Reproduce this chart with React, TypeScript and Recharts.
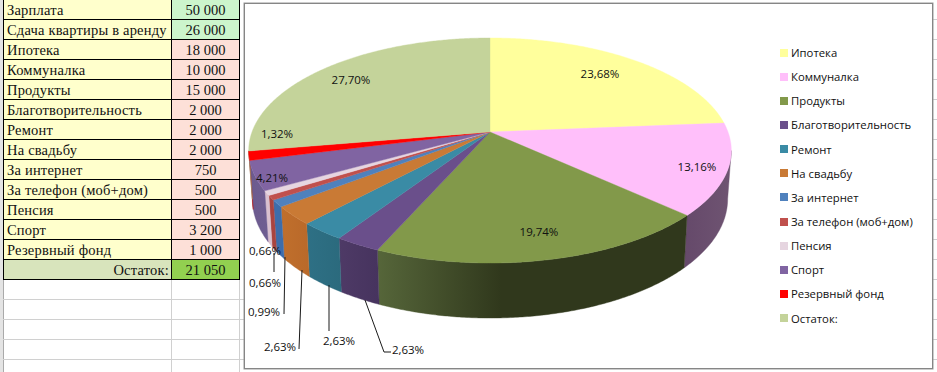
import React from 'react'
import { PieChart, Pie, Legend } from 'recharts'

const incomeNames = ['Зарплата', 'Сдача квартиры в аренду']
const incomeValues = [50000, 26000]
const expenseNames = ['Ипотека', 'Коммуналка', 'Продукты', 'Благотворительность', 'Ремонт', 'На свадьбу', 'За интернет', 'За телефон (моб+дом)', 'Пенсия', 'Спорт', 'Резервный фонд']
const expenseValues = [18000, 10000, 15000, 2000, 2000, 2000, 750, 500, 500, 3200, 1000]
const restName = 'Остаток:'
const restValue = 21050

const sliceColors = ['#FFFF9C', '#FFBFFA', '#82994A', '#6A4F8B', '#3A8BA5', '#C97A35', '#4F81BD', '#C0504D', '#E6D5E0', '#8064A2', '#FF0000', '#C4D39A']
const wallColors = [
    ['#8a8a50', '#8a8a50'], ['#65496a', '#6f5472'], ['#56663a', '#30381c'], ['#4e3a66', '#46335e'],
    ['#2e7085', '#2b6a7d'], ['#c06f2c', '#b9692a'], ['#3d6dab', '#3d6dab'], ['#a94440', '#a94440'],
    ['#d9c0cf', '#d9c0cf'], ['#6b5a8e', '#6f5e92'], ['#b00000', '#b00000'], ['#9aa878', '#9aa878'],
]

// label centre per slice, the third item is the leader line when there is one
const labelSpots: any[] = [
    [600, 73], [697, 166], [539, 231], [408, 349, [[365, 300], [384, 352], [391, 352]]], [339, 340, [[329, 285], [329, 331]]], [280, 346, [[302, 270], [299, 349]]],
    [264, 311, [[285, 257], [284, 314]]], [265, 250], [265, 282, [[274, 253], [274, 272]]], [272, 177], [277, 133], [351, 79],
]

const chartData = [...expenseNames, restName].map((name, i) => ({
    name,
    value: i < expenseValues.length ? expenseValues[i] : restValue,
    fill: sliceColors[i],
}))

const tableRows = [
    ...incomeNames.map((name, i) => ({ name, value: incomeValues[i], bg: '#ffffcc', valueBg: '#ccf5cc' })),
    ...expenseNames.map((name, i) => ({ name, value: expenseValues[i], bg: '#ffffcc', valueBg: '#fde0d8' })),
]

const fmt = (n: number) => String(n).replace(/\B(?=(\d{3})+$)/g, ' ')

const PIE_CX = 490
const PIE_CY = 132
const PIE_R = 238
const FLAT = 0.46
const TILT = 0.1645

// the pie plane is seen in perspective, so the hub is not the centre of the rim
const project = (cx: number, cy: number, r: number, cw: number) => {
    const a = (cw * Math.PI) / 180
    const u = Math.sin(a)
    const v = Math.cos(a)
    const w = 1 + TILT * v
    return { x: cx + (r * u) / w, y: cy - (r * FLAT * v) / w, v }
}

const rimBottom = (cx: number, cy: number, r: number, cw: number) => {
    const p = project(cx, cy, r, cw)
    return { x: cx + (p.x - cx) * 0.985, y: p.y + 47 - 8 * p.v }
}

const arcAngles = (from: number, to: number) => {
    const steps = Math.max(2, Math.ceil(Math.abs(to - from) * 2))
    return Array.from({ length: steps + 1 }, (_, i) => from + ((to - from) * i) / steps)
}

const TopShape = (props: any) => {
    const { cx, cy, outerRadius, startAngle, endAngle, fill } = props
    const pts = arcAngles(90 - startAngle, 90 - endAngle).map((c) => project(cx, cy, outerRadius, c))
    const d = `M${cx},${cy} ` + pts.map((p) => `L${p.x.toFixed(2)},${p.y.toFixed(2)}`).join(' ') + ' Z'
    return <path d={d} fill={fill} stroke={fill} strokeWidth={0.4} />
}

const WallShape = (props: any) => {
    const { cx, cy, outerRadius, startAngle, endAngle, index } = props
    const from = Math.max(90 - startAngle, 99.5)
    const to = Math.min(90 - endAngle, 260.5)
    if (to <= from) return null
    const angles = arcAngles(from, to)
    const top = angles.map((c) => project(cx, cy, outerRadius, c))
    const bottom = angles.map((c) => rimBottom(cx, cy, outerRadius, c)).reverse()
    const d = 'M' + [...top, ...bottom].map((p) => `${p.x.toFixed(2)},${p.y.toFixed(2)}`).join(' L') + ' Z'
    const [left, right] = wallColors[index]
    const id = `wall${index}`
    return (
        <g>
            <defs>
                <linearGradient id={id} x1="0" y1="0" x2="1" y2="0">
                    <stop offset="0%" stopColor={left} />
                    <stop offset={index === 2 ? '40%' : '100%'} stopColor={right} />
                    <stop offset="100%" stopColor={right} />
                </linearGradient>
            </defs>
            <path d={d} fill={`url(#${id})`} stroke={`url(#${id})`} strokeWidth={0.4} />
        </g>
    )
}

const renderLabel = (props: any) => {
    const { percent, index } = props
    const [x, y, leader] = labelSpots[index]
    const text = (percent * 100).toFixed(2).replace('.', ',') + '%'
    return (
        <g key={index}>
            {leader && (
                <polyline
                    points={leader.map((p: number[]) => p.join(',')).join(' ')}
                    fill="none"
                    stroke="#1a1a1a"
                    strokeWidth={1}
                />
            )}
            <text x={x} y={y} textAnchor="middle" dominantBaseline="central" fontFamily="'Open Sans'" fontSize={11.5} fill="#111">
                {text}
            </text>
        </g>
    )
}

const renderLegend = () => (
    <div style={{ display: 'flex', flexDirection: 'column', fontFamily: "'Open Sans'", fontSize: 11.3, color: '#111' }}>
        {chartData.map((d) => (
            <div key={d.name} style={{ height: 24.15, display: 'flex', alignItems: 'center', whiteSpace: 'nowrap' }}>
                <span style={{ width: 8, height: 8, background: d.fill, marginRight: 3, display: 'inline-block' }} />
                {d.name}
            </div>
        ))}
    </div>
)

const cell: React.CSSProperties = {
    position: 'absolute',
    boxSizing: 'border-box',
    height: 21,
    lineHeight: '20px',
    fontFamily: "'Liberation Serif'",
    fontSize: 14.5,
    color: '#111',
    border: '1px solid #000',
    whiteSpace: 'nowrap',
}

export default function App() {
    return (
        <div style={{ position: 'absolute', left: 0, top: 0, width: 937, height: 372, overflow: 'hidden', background: '#fff' }}>
            {/* sheet grid */}
            <div style={{ position: 'absolute', left: 0, top: 0, width: 3, height: 372, background: '#e4e4e4', borderRight: '1px solid #aaa' }} />
            {[299, 319, 339, 359].map((y) => (
                <div key={y} style={{ position: 'absolute', left: 3, top: y, width: 241, height: 1, background: '#d0d0d0' }} />
            ))}
            {[171, 239].map((x) => (
                <div key={x} style={{ position: 'absolute', left: x, top: 280, width: 1, height: 92, background: '#d0d0d0' }} />
            ))}
            {[19, 39, 59, 79, 99, 119, 139, 159, 179, 199, 219, 239, 259, 279, 299, 319, 339, 359].map((y) => (
                <div key={y} style={{ position: 'absolute', left: 933, top: y, width: 4, height: 1, background: '#d0d0d0' }} />
            ))}

            {/* table */}
            {tableRows.map((r, i) => (
                <React.Fragment key={r.name}>
                    <div style={{ ...cell, left: 3, top: i * 20 - 1, width: 169, background: r.bg, paddingLeft: 3, letterSpacing: 0.2 }}>{r.name}</div>
                    <div style={{ ...cell, left: 171, top: i * 20 - 1, width: 69, background: r.valueBg, textAlign: 'center' }}>{fmt(r.value)}</div>
                </React.Fragment>
            ))}
            <div style={{ ...cell, left: 3, top: 259, width: 169, background: '#d8e4bc', textAlign: 'right', paddingRight: 2, letterSpacing: 0.2 }}>{restName}</div>
            <div style={{ ...cell, left: 171, top: 259, width: 69, background: '#92d050', textAlign: 'center' }}>{fmt(restValue)}</div>

            {/* chart frame */}
            <div style={{ position: 'absolute', left: 244, top: 3, width: 687, height: 364, background: '#fff', border: '1px solid #868686', boxShadow: '0 0 0 0.5px #999' }} />

            <div style={{ position: 'absolute', left: 0, top: 0 }}>
                <PieChart width={937} height={372} margin={{ top: 0, right: 0, bottom: 0, left: 0 }}>
                    <Pie
                        data={chartData}
                        dataKey="value"
                        nameKey="name"
                        cx={PIE_CX}
                        cy={PIE_CY}
                        outerRadius={PIE_R}
                        startAngle={90}
                        endAngle={-270}
                        stroke="none"
                        legendType="none"
                        shape={WallShape}
                        isAnimationActive={false}
                    />
                    <Pie
                        data={chartData}
                        dataKey="value"
                        nameKey="name"
                        cx={PIE_CX}
                        cy={PIE_CY}
                        outerRadius={PIE_R}
                        startAngle={90}
                        endAngle={-270}
                        stroke="none"
                        shape={TopShape}
                        label={renderLabel}
                        labelLine={false}
                        isAnimationActive={false}
                    />
                    <Legend
                        layout="vertical"
                        content={renderLegend}
                        wrapperStyle={{ position: 'absolute', left: 780, top: 40.5, width: 150, bottom: 'auto' }}
                    />
                </PieChart>
            </div>
        </div>
    )
}
